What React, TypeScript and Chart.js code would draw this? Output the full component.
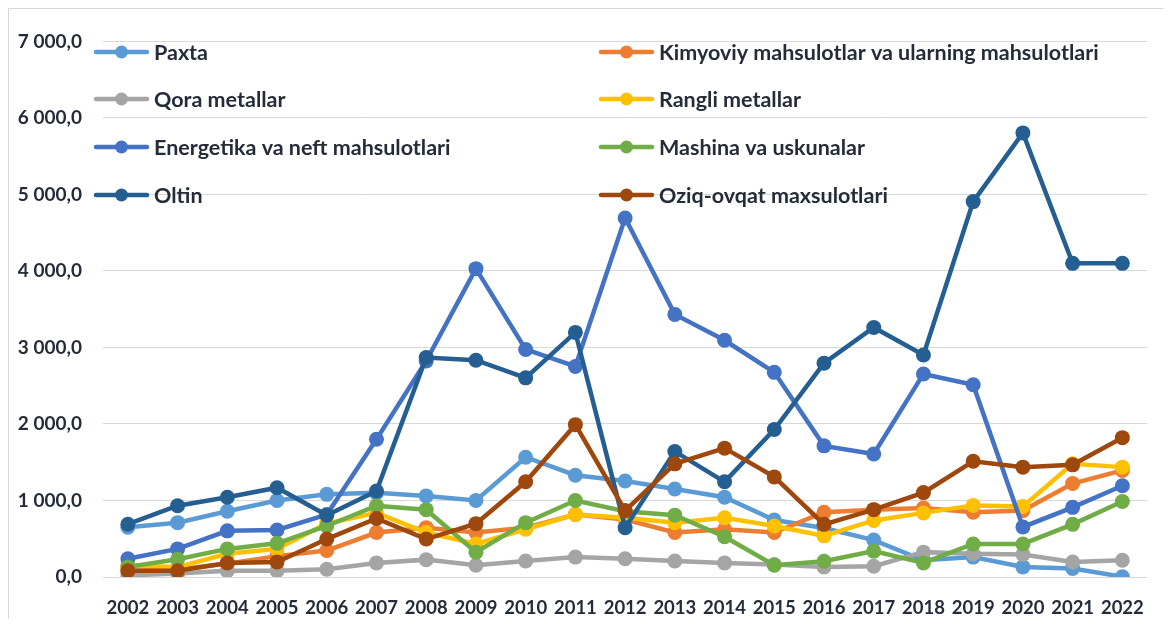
import React, { useEffect, useRef } from "react";
import { Chart, registerables } from "chart.js";

Chart.register(...registerables);

const years = ["2002","2003","2004","2005","2006","2007","2008","2009","2010","2011","2012","2013","2014","2015","2016","2017","2018","2019","2020","2021","2022"];

const seriesNames = [
  "Paxta",
  "Kimyoviy mahsulotlar va ularning mahsulotlari",
  "Qora metallar",
  "Rangli metallar",
  "Energetika va neft mahsulotlari",
  "Mashina va uskunalar",
  "Oltin",
  "Oziq-ovqat maxsulotlari",
];

const paxta = [650, 710, 860, 1000, 1080, 1100, 1060, 1000, 1565, 1330, 1255, 1150, 1043, 745, 640, 483, 218, 260, 132, 111, 4];
const kimyoviy = [80, 98, 175, 273, 346, 581, 645, 581, 645, 816, 752, 581, 624, 581, 846, 880, 902, 846, 868, 1222, 1393];
const qora = [20, 47, 81, 81, 102, 184, 227, 154, 209, 260, 239, 209, 184, 162, 132, 141, 325, 303, 295, 196, 218];
const rangli = [150, 130, 303, 367, 700, 838, 581, 432, 624, 816, 773, 710, 773, 667, 538, 739, 838, 936, 923, 1479, 1436];
const energetika = [239, 367, 603, 615, 816, 1800, 2824, 4030, 2974, 2752, 4692, 3432, 3094, 2675, 1714, 1607, 2654, 2513, 654, 910, 1192];
const mashina = [132, 231, 367, 440, 667, 932, 880, 325, 710, 1000, 859, 808, 526, 154, 205, 338, 184, 432, 432, 688, 987];
const oltin = [690, 932, 1043, 1167, 808, 1124, 2868, 2833, 2603, 3197, 645, 1641, 1244, 1927, 2795, 3261, 2902, 4906, 5804, 4099, 4099];
const oziq = [81, 81, 184, 197, 496, 765, 496, 697, 1244, 1991, 868, 1479, 1684, 1308, 688, 880, 1103, 1513, 1436, 1466, 1821];

const seriesValues = [paxta, kimyoviy, qora, rangli, energetika, mashina, oltin, oziq];
const seriesColors = ["#5B9BD5", "#ED7D31", "#A5A5A5", "#FFC000", "#4472C4", "#70AD47", "#255E91", "#9E480E"];

const TEXT = "#252c38";
const FONT = "Lato, 'Open Sans', sans-serif";

function fmt(v: number): string {
  const n = Math.round(v);
  const s = String(n).replace(/\B(?=(\d{3})+(?!\d))/g, " ");
  return s + ",0";
}

const legendPlugin = {
  id: "gridLegend",
  afterDatasetsDraw(chart: any) {
    const ctx = chart.ctx;
    const colX = [87, 592];
    const rowY = [43, 90, 138, 186];
    const lineLen = 51;
    ctx.save();
    chart.data.datasets.forEach((ds: any, i: number) => {
      const col = i % 2;
      const row = Math.floor(i / 2);
      const x = colX[col];
      const y = rowY[row];
      ctx.strokeStyle = ds.borderColor;
      ctx.lineWidth = 4.5;
      ctx.lineCap = "round";
      ctx.beginPath();
      ctx.moveTo(x, y);
      ctx.lineTo(x + lineLen, y);
      ctx.stroke();
      ctx.fillStyle = ds.backgroundColor;
      ctx.beginPath();
      ctx.arc(x + lineLen / 2, y, 6.5, 0, Math.PI * 2);
      ctx.fill();
      ctx.fillStyle = TEXT;
      ctx.font = `bold 21.5px ${FONT}`;
      ctx.textBaseline = "middle";
      ctx.textAlign = "left";
      ctx.fillText(ds.label, x + lineLen + 7, y + 1);
    });
    ctx.restore();
  },
};

export default function App() {
  const ref = useRef<HTMLCanvasElement | null>(null);

  useEffect(() => {
    if (!ref.current) return;
    const datasets = seriesNames.map((name, i) => ({
      label: name,
      data: seriesValues[i],
      borderColor: seriesColors[i],
      backgroundColor: seriesColors[i],
      pointBackgroundColor: seriesColors[i],
      pointBorderColor: seriesColors[i],
      borderWidth: 4.5,
      pointRadius: 7.5,
      pointHoverRadius: 7.5,
      pointBorderWidth: 0,
      tension: 0,
      order: seriesNames.length - i,
    }));
    const chart = new Chart(ref.current, {
      type: "line",
      data: { labels: years, datasets },
      plugins: [legendPlugin],
      options: {
        animation: false,
        responsive: false,
        layout: { padding: { top: 23, right: 4, left: 0, bottom: 0 } },
        plugins: { legend: { display: false }, tooltip: { enabled: false } },
        scales: {
          x: {
            offset: true,
            grid: { display: false, drawTicks: false },
            border: { display: false },
            ticks: {
              autoSkip: false,
              maxRotation: 0,
              padding: 20,
              color: TEXT,
              font: { family: FONT, size: 18.5, weight: "bold" },
            },
            afterFit(scale: any) { scale.height = 42; },
          },
          y: {
            min: 0,
            max: 7000,
            grid: { color: "#d9d9d9", lineWidth: 1, drawTicks: false },
            border: { display: false },
            ticks: {
              stepSize: 1000,
              padding: 21,
              color: TEXT,
              font: { family: FONT, size: 19, weight: "bold" },
              callback: (v: any) => fmt(Number(v)),
            },
            afterFit(scale: any) { scale.width = 94; },
          },
        },
      },
    });
    return () => chart.destroy();
  }, []);

  return (
    <div
      style={{
        position: "relative",
        width: 1156,
        height: 611,
        boxSizing: "border-box",
        borderTop: "1px solid #d9d9d9",
        borderLeft: "1px solid #d9d9d9",
        background: "#fff",
      }}
    >
      <canvas ref={ref} width={1155} height={610} style={{ display: "block" }} />
    </div>
  );
}
